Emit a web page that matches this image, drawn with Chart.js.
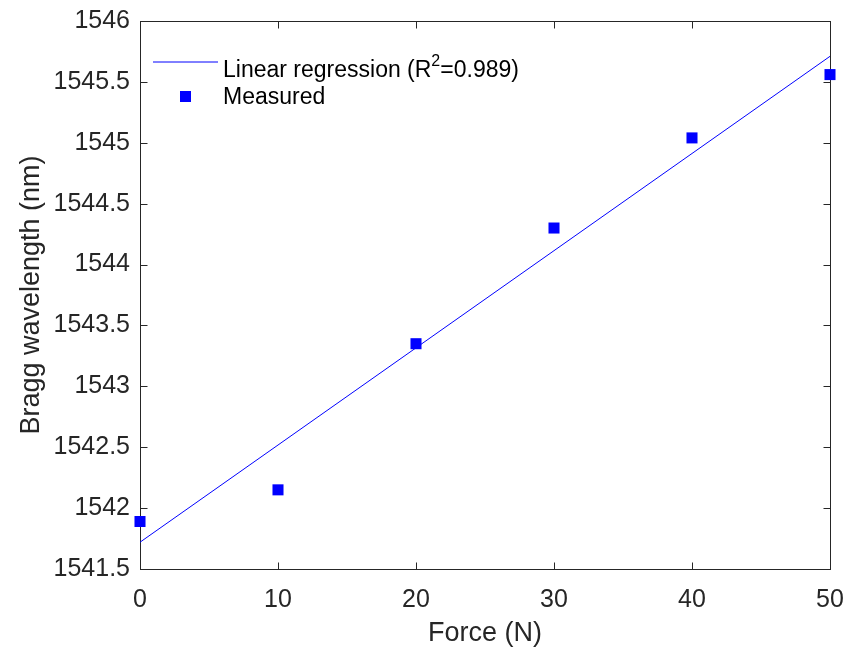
<!DOCTYPE html>
<html>
<head>
<meta charset="utf-8">
<script src="https://cdn.jsdelivr.net/npm/chart.js@4.4.1/dist/chart.umd.min.js"></script>
<style>
  body { margin: 0; background: #fff; }
  #wrap { width: 845px; height: 651px; }
</style>
</head>
<body>
<div id="wrap"><canvas id="bragg"></canvas></div>
<script>
/** BRAGG WAVELENGTH vs FORCE **/

var forceN = [0, 10, 20, 30, 40, 50];
var measuredNm = [1541.89, 1542.15, 1543.35, 1544.30, 1545.04, 1545.56];

var fitForceN = [0, 50];
var fitNm = [1541.72, 1545.71];

var xTicks = [0, 10, 20, 30, 40, 50];
var xTickLabels = ['0', '10', '20', '30', '40', '50'];
var yTicks = [1541.5, 1542, 1542.5, 1543, 1543.5, 1544, 1544.5, 1545, 1545.5, 1546];
var yTickLabels = ['1541.5', '1542', '1542.5', '1543', '1543.5', '1544', '1544.5', '1545', '1545.5', '1546'];

var FONT = "'Liberation Sans', Arial, Helvetica, sans-serif";
var AXIS_COLOR = '#262626';
var BLUE = '#0000ff';

function toXY(xs, ys) {
    return xs.map(function (x, i) { return { x: x, y: ys[i] }; });
}

// box round the axes with inward ticks on all four sides, like matlab
var axesBox = {
    id: 'axesBox',
    beforeDatasetsDraw: function (chart) {
        var ctx = chart.ctx, a = chart.chartArea;
        var xs = chart.scales.x, ys = chart.scales.y;
        var L = Math.round(a.left) + 0.5, R = Math.round(a.right) + 0.5;
        var T = Math.round(a.top) + 0.5, B = Math.round(a.bottom) + 0.5;
        var tl = 7;
        ctx.save();
        ctx.strokeStyle = AXIS_COLOR;
        ctx.lineWidth = 1;
        ctx.strokeRect(L, T, R - L, B - T);
        ctx.beginPath();
        xTicks.forEach(function (v) {
            var px = Math.round(xs.getPixelForValue(v)) + 0.5;
            ctx.moveTo(px, B); ctx.lineTo(px, B - tl);
            ctx.moveTo(px, T); ctx.lineTo(px, T + tl);
        });
        yTicks.forEach(function (v) {
            var py = Math.round(ys.getPixelForValue(v)) + 0.5;
            ctx.moveTo(L, py); ctx.lineTo(L + tl, py);
            ctx.moveTo(R, py); ctx.lineTo(R - tl, py);
        });
        ctx.stroke();
        ctx.restore();
    }
};

// legend inside the plot, with the superscript in R^2
var insideLegend = {
    id: 'insideLegend',
    afterDraw: function (chart) {
        var ctx = chart.ctx;
        ctx.save();
        ctx.strokeStyle = BLUE;
        ctx.lineWidth = 1;
        ctx.beginPath();
        ctx.moveTo(153, 62);
        ctx.lineTo(218, 62);
        ctx.stroke();

        ctx.fillStyle = BLUE;
        ctx.fillRect(180, 91, 11, 11);

        ctx.fillStyle = '#000';
        ctx.textBaseline = 'alphabetic';
        ctx.textAlign = 'left';
        ctx.font = '23px ' + FONT;
        var t1 = 'Linear regression (R';
        ctx.fillText(t1, 223, 77);
        var x = 223 + ctx.measureText(t1).width;
        ctx.font = '16px ' + FONT;
        ctx.fillText('2', x, 66);
        x += ctx.measureText('2').width;
        ctx.font = '23px ' + FONT;
        ctx.fillText('=0.989)', x, 77);
        ctx.fillText('Measured', 223, 104);
        ctx.restore();
    }
};

var ctx = document.getElementById('bragg');

var braggChart = new Chart(ctx, {
    type: 'scatter',
    data: {
        datasets: [{
            label: 'Linear regression (R2=0.989)',
            data: toXY(fitForceN, fitNm),
            showLine: true,
            borderColor: BLUE,
            borderWidth: 1,
            pointRadius: 0,
            fill: false
        }, {
            label: 'Measured',
            data: toXY(forceN, measuredNm),
            pointStyle: 'rect',
            pointRadius: 7.8,
            pointHoverRadius: 7.8,
            pointBackgroundColor: BLUE,
            pointBorderWidth: 0,
            borderWidth: 0,
            clip: false
        }]
    },
    options: {
        responsive: true,
        maintainAspectRatio: false,
        animation: false,
        layout: {
            padding: { top: 21, right: 15, left: 0, bottom: 0 }
        },
        plugins: {
            legend: { display: false },
            tooltip: { enabled: false }
        },
        scales: {
            x: {
                type: 'linear',
                min: 0,
                max: 50,
                afterBuildTicks: function (s) {
                    s.ticks = xTicks.map(function (v) { return { value: v }; });
                },
                afterFit: function (s) {
                    s.height = 82;
                    s.paddingLeft = 0;
                    s.paddingRight = 0;
                },
                grid: { display: false, drawTicks: false },
                border: { display: false },
                ticks: {
                    padding: 16,
                    color: AXIS_COLOR,
                    font: { family: FONT, size: 25 },
                    maxRotation: 0,
                    callback: function (v, i) { return xTickLabels[i]; }
                },
                title: {
                    display: true,
                    text: 'Force (N)',
                    color: AXIS_COLOR,
                    font: { family: FONT, size: 27 },
                    padding: { top: 0, bottom: 1 }
                }
            },
            y: {
                type: 'linear',
                min: 1541.5,
                max: 1546,
                afterBuildTicks: function (s) {
                    s.ticks = yTicks.map(function (v) { return { value: v }; });
                },
                afterFit: function (s) {
                    s.width = 140;
                    s.paddingTop = 0;
                    s.paddingBottom = 0;
                },
                grid: { display: false, drawTicks: false },
                border: { display: false },
                ticks: {
                    padding: 10,
                    color: AXIS_COLOR,
                    font: { family: FONT, size: 25 },
                    callback: function (v, i) { return yTickLabels[i]; }
                },
                title: {
                    display: true,
                    text: 'Bragg wavelength (nm)',
                    color: AXIS_COLOR,
                    font: { family: FONT, size: 27 },
                    padding: { top: 15, bottom: 0 }
                }
            }
        }
    },
    plugins: [axesBox, insideLegend]
});
</script>
</body>
</html>
